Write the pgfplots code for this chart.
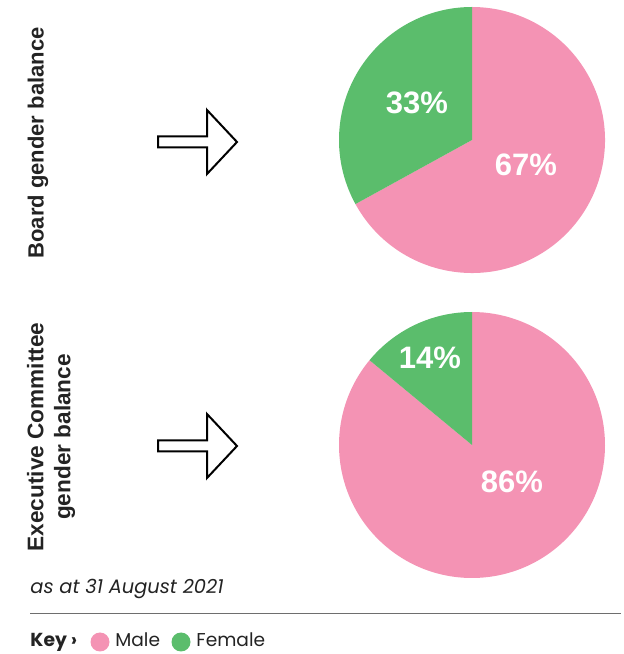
\documentclass[border=0pt]{standalone}
\usepackage{pgfplots}
\pgfplotsset{compat=1.18}
\usepackage{pgfplotstable}
\usepackage{fontspec}
\setmainfont{Liberation Sans}
\newfontfamily\geo{Poppins}
\definecolor{malec}{RGB}{244,147,180}
\definecolor{femc}{RGB}{91,189,108}
\definecolor{rulec}{RGB}{110,110,110}
\definecolor{txtc}{RGB}{35,35,35}

\pgfplotstableread{
group male female
board 67 33
exec  86 14
}\piedata
\pgfplotstablegetelem{0}{female}\of\piedata \let\bF\pgfplotsretval
\pgfplotstablegetelem{0}{male}\of\piedata \let\bM\pgfplotsretval
\pgfplotstablegetelem{1}{female}\of\piedata \let\eF\pgfplotsretval
\pgfplotstablegetelem{1}{male}\of\piedata \let\eM\pgfplotsretval
\pgfmathsetmacro\aB{90+3.6*\bF}
\pgfmathsetmacro\aE{90+3.6*\eF}

\begin{document}
\begin{tikzpicture}
\begin{axis}[x=0.5pt,y=0.5pt,xmin=0,xmax=621,ymin=0,ymax=654,
  hide axis, clip=false, scale only axis]
\path (axis cs:0,0) (axis cs:621,654);
% Board pie
\fill[malec] (axis cs:472,514) -- ++(\aB:66.5pt) arc[start angle=\aB, end angle=450, radius=66.5pt] -- cycle;
\fill[femc] (axis cs:472,514) -- ++(90:66.5pt) arc[start angle=90, end angle=\aB, radius=66.5pt] -- cycle;
% Exec pie
\fill[malec] (axis cs:472,209) -- ++(\aE:66.5pt) arc[start angle=\aE, end angle=450, radius=66.5pt] -- cycle;
\fill[femc] (axis cs:472,209) -- ++(90:66.5pt) arc[start angle=90, end angle=\aE, radius=66.5pt] -- cycle;
% percentages
\node[white, font=\fontsize{15.5}{18}\selectfont\bfseries] at (axis cs:417,551) {\bF\%};
\node[white, font=\fontsize{15.5}{18}\selectfont\bfseries] at (axis cs:526,489) {\bM\%};
\node[white, font=\fontsize{15.5}{18}\selectfont\bfseries] at (axis cs:430,296) {\eF\%};
\node[white, font=\fontsize{15.5}{18}\selectfont\bfseries] at (axis cs:512,172) {\eM\%};
% arrows
\draw[line width=1pt, line join=miter] (axis cs:158,506.5) -- (axis cs:207,506.5) -- (axis cs:207,480) -- (axis cs:237,512) -- (axis cs:207,544) -- (axis cs:207,517.5) -- (axis cs:158,517.5) -- cycle;
\draw[line width=1pt, line join=miter] (axis cs:158,202.5) -- (axis cs:207,202.5) -- (axis cs:207,176) -- (axis cs:237,208) -- (axis cs:207,240) -- (axis cs:207,213.5) -- (axis cs:158,213.5) -- cycle;
% side labels
\node[rotate=90, txtc, font=\fontsize{11}{13}\selectfont\bfseries] at (axis cs:38,511) {Board gender balance};
\node[rotate=90, txtc, align=center, font=\fontsize{11.3}{13.5}\selectfont\bfseries] at (axis cs:51,217) {Executive Committee\\gender balance};
% footnote
\node[anchor=base west, inner sep=0pt, txtc, font=\geo\itshape\fontsize{9.7}{11}\selectfont] at (axis cs:30,61) {as at 31 August 2021};
\draw[rulec, line width=0.5pt] (axis cs:30,40) -- (axis cs:621,40);
% key
\node[anchor=base west, inner sep=0pt, txtc, font=\geo\bfseries\fontsize{9.4}{11}\selectfont] at (axis cs:30,7) {Key ›};
\fill[malec] (axis cs:100,12) circle[radius=4.75pt];
\node[anchor=base west, inner sep=0pt, txtc, font=\geo\fontsize{9.3}{11}\selectfont] at (axis cs:115,7) {Male};
\fill[femc] (axis cs:181,12) circle[radius=4.75pt];
\node[anchor=base west, inner sep=0pt, txtc, font=\geo\fontsize{9.3}{11}\selectfont] at (axis cs:196,7) {Female};
\end{axis}
\end{tikzpicture}
\end{document}
